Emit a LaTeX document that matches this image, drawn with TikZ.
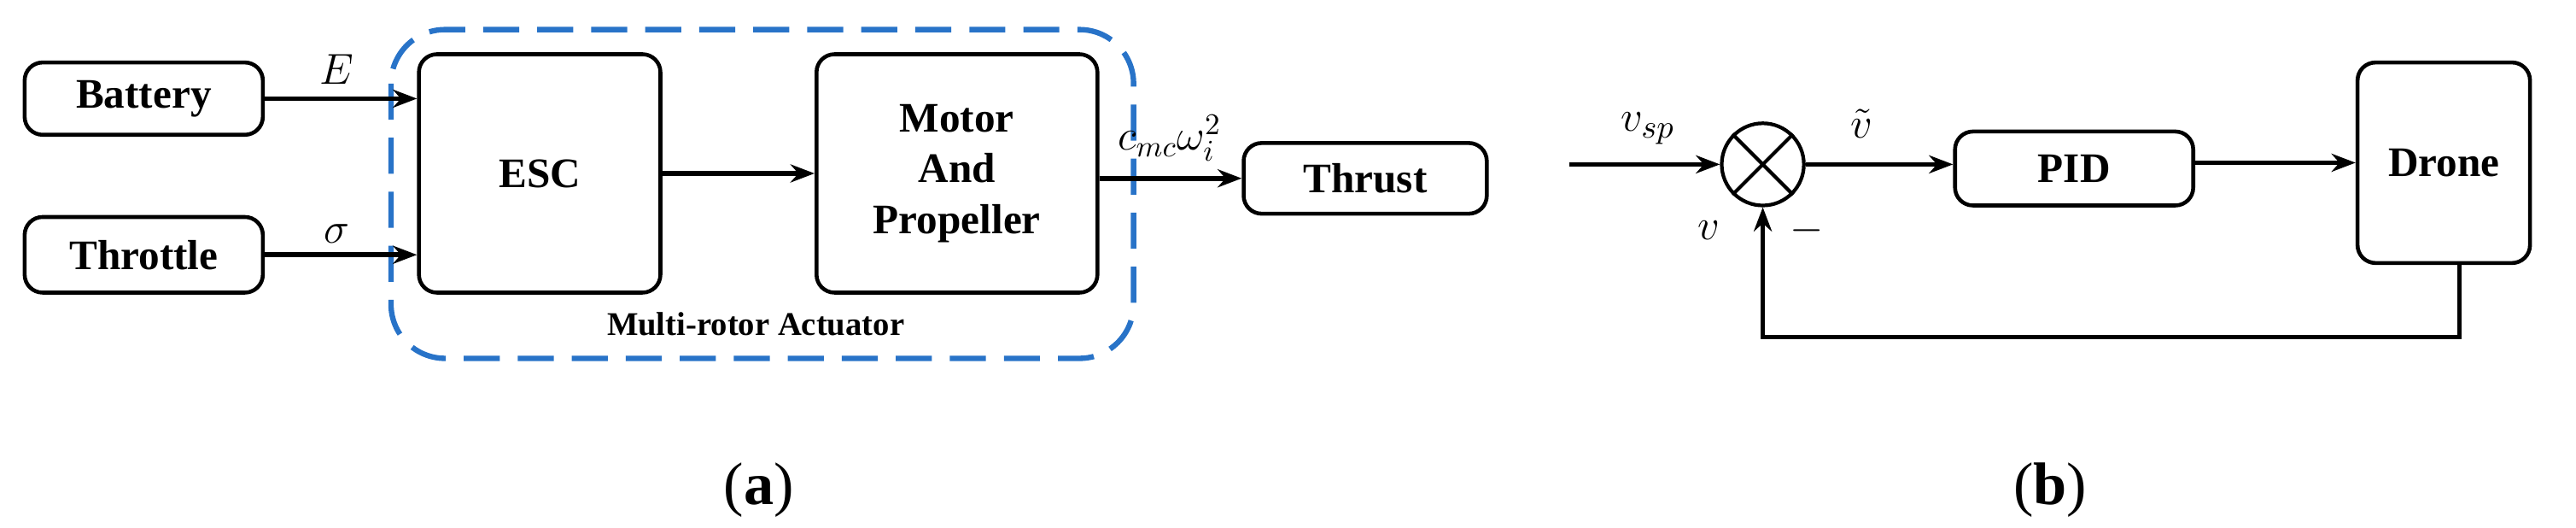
\documentclass[tikz,border=0pt]{standalone}
\usepackage{fontspec}
\setmainfont{Liberation Serif}
\usetikzlibrary{arrows.meta}
\definecolor{dblue}{RGB}{40,115,200}
\begin{document}
\begin{tikzpicture}[x=0.01924cm,y=-0.01924cm,
 blk/.style n args={2}{draw,line width=1.3pt,rounded corners=6pt,font=\fontsize{14}{17}\selectfont\bfseries,align=center,inner sep=0pt,minimum width=#1*0.01924cm,minimum height=#2*0.01924cm},
 arr/.style={line width=1.6pt,-{Stealth[length=8pt,width=6pt]}},
 lab/.style={font=\fontsize{15}{17}\selectfont}]
\useasboundingbox (0,0) rectangle (1568,320.7);
% (a)
\node[blk={145}{44}] (bat) at (87.5,60) {Battery};
\node[blk={145}{46}] (thr) at (87.5,155) {Throttle};
\draw[dblue,line width=1.8pt,dash pattern=on 12pt off 6pt,rounded corners=18pt] (238,18) rectangle (690,218);
\node[font=\fontsize{11}{13}\selectfont\bfseries] (mra) at (460,197) {Multi-rotor Actuator};
\node[blk={147}{145}] (esc) at (328.5,105.5) {ESC};
\node[blk={171}{145}] (mot) at (582.5,105.5) {Motor\\And\\Propeller};
\node[blk={148}{43}] (thu) at (831,108.5) {Thrust};
\draw[arr] (bat.east) -- (bat.east -| esc.west);
\draw[arr] (thr.east) -- (thr.east -| esc.west);
\node[lab] (E) at (205,42) {$E$};
\node[lab] (sg) at (205,142) {$\sigma$};
\draw[arr] (esc.east) -- (mot.west);
\draw[arr] (mot.east |- thu.west) -- (thu.west);
\node[font=\fontsize{14}{16}\selectfont] (c) at (712,84) {$c_{mc}\omega_i^2$};
\node[font=\fontsize{20}{22}\selectfont] (la) at (462,298) {(\textbf{a})};
% (b)
\coordinate (vin) at (955,100);
\node[draw,circle,line width=1.2pt,minimum size=50*0.01924cm,inner sep=0pt] (sum) at (1073,100) {};
\draw[line width=1.2pt] (sum.45) -- (sum.225) (sum.135) -- (sum.315);
\node[blk={145}{45}] (pid) at (1262.5,102.5) {PID};
\node[blk={105}{122}] (dr) at (1487.5,99) {Drone};
\draw[arr] (vin) -- (sum.west);
\node[lab] (vsp) at (1003,78) {$v_{sp}$};
\draw[arr] (sum.east) -- (sum.east -| pid.west);
\node[lab] (vt) at (1133,75) {$\tilde{v}$};
\draw[arr] (pid.east |- dr.west) -- (dr.west);
\coordinate (fb1) at (1497,205);
\coordinate (fb2) at (1073,205);
\draw[arr] (dr.south -| fb1) -- (fb1) -- (fb2) -- (sum.south);
\node[lab] (v) at (1040,140) {$v$};
\node[lab] (mn) at (1100,140) {$-$};
\node[font=\fontsize{20}{22}\selectfont] (lb) at (1248,298) {(\textbf{b})};
\end{tikzpicture}
\end{document}
